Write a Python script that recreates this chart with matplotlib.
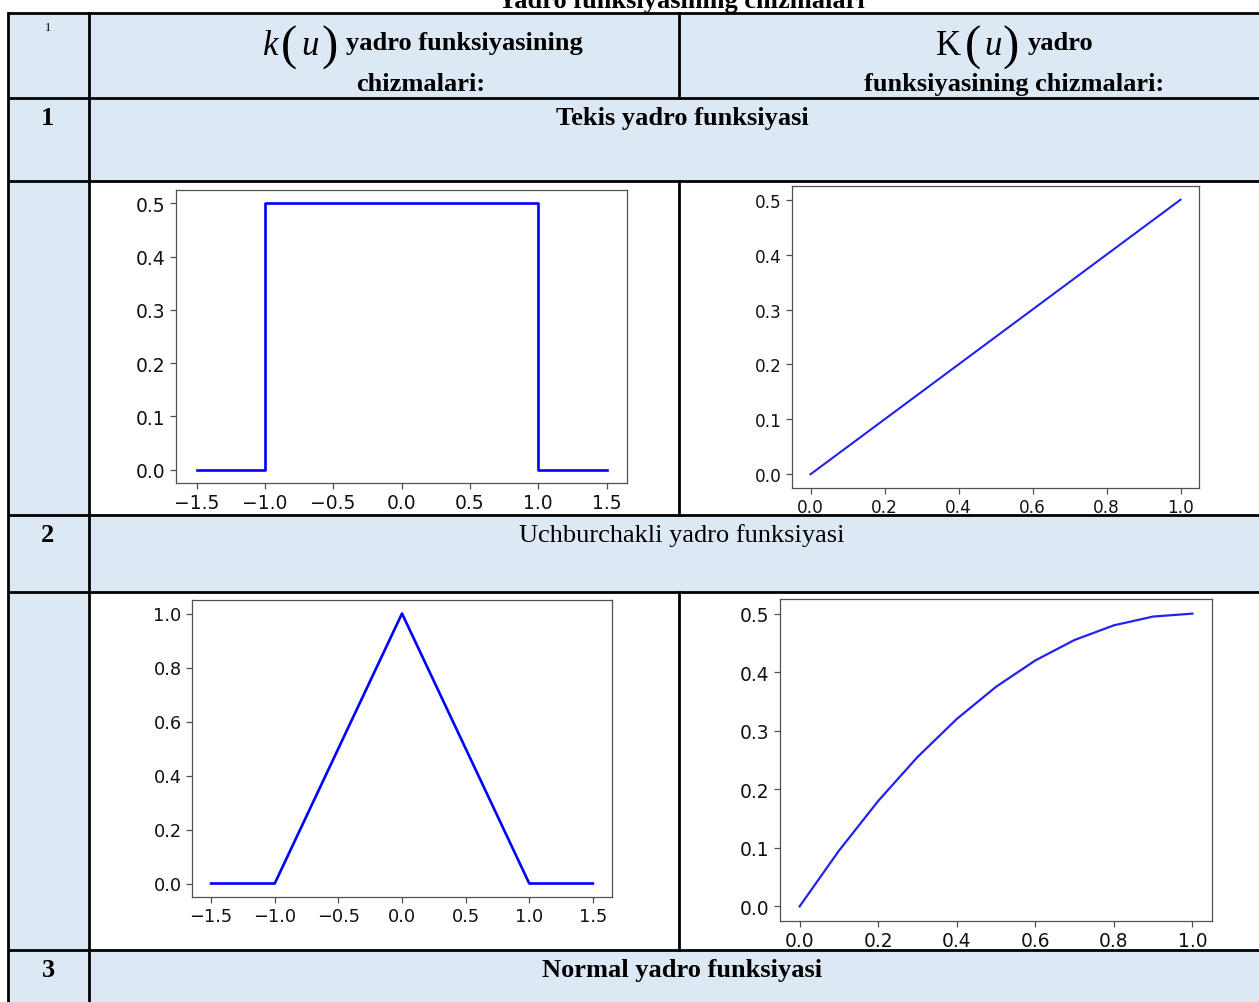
import matplotlib
matplotlib.use('Agg')
import matplotlib.pyplot as plt
from matplotlib.patches import Rectangle

W, H = 1259, 1003
BLUE_CELL = '#dde8f5'
SERIF = 'Liberation Serif'

# Uniform (tekis) kernel and its integral
u_flat = [-1.5, -1.0, -1.0, 1.0, 1.0, 1.5]
k_flat = [0.0, 0.0, 0.5, 0.5, 0.0, 0.0]
u_flat_int = [0.0, 0.1, 0.2, 0.3, 0.4, 0.5, 0.6, 0.7, 0.8, 0.9, 1.0]
K_flat = [0.0, 0.05, 0.10, 0.15, 0.20, 0.25, 0.30, 0.35, 0.40, 0.45, 0.50]

# Triangular (uchburchakli) kernel and its integral
u_tri = [-1.5, -1.0, 0.0, 1.0, 1.5]
k_tri = [0.0, 0.0, 1.0, 0.0, 0.0]
u_tri_int = [0.0, 0.1, 0.2, 0.3, 0.4, 0.5, 0.6, 0.7, 0.8, 0.9, 1.0]
K_tri = [0.0, 0.095, 0.18, 0.255, 0.32, 0.375, 0.42, 0.455, 0.48, 0.495, 0.5]

title = 'Yadro funksiyasining chizmalari'
row_numbers = ['1', '2', '3']
row_titles = ['Tekis yadro funksiyasi', 'Uchburchakli yadro funksiyasi',
              'Normal yadro funksiyasi']
row_weights = ['bold', 'normal', 'bold']

fig = plt.figure(figsize=(W / 100, H / 100), dpi=100)
fig.patch.set_facecolor('white')

# full-figure axes in pixel units for the table itself
tab = fig.add_axes([0, 0, 1, 1])
tab.set_xlim(0, W)
tab.set_ylim(H, 0)
tab.axis('off')

x_left, x_c1, x_c2, x_right = 8, 89, 679, 1262
y_rows = [14, 99, 182, 516, 593, 951, 1010]

# shaded cells: header, row titles, and the number column
for top, bot in [(y_rows[0], y_rows[1]), (y_rows[1], y_rows[2]),
                 (y_rows[3], y_rows[4]), (y_rows[5], y_rows[6])]:
    tab.add_patch(Rectangle((x_left, top), x_right - x_left, bot - top,
                            facecolor=BLUE_CELL, edgecolor='none'))
for top, bot in [(y_rows[2], y_rows[3]), (y_rows[4], y_rows[5])]:
    tab.add_patch(Rectangle((x_left, top), x_c1 - x_left, bot - top,
                            facecolor=BLUE_CELL, edgecolor='none'))

lw = 2.0
for y in y_rows[:-1]:
    tab.plot([x_left, x_right], [y, y], color='black', lw=lw,
             solid_capstyle='butt')
tab.plot([x_left, x_left], [y_rows[0], H], color='black', lw=lw)
tab.plot([x_c1, x_c1], [y_rows[0], H], color='black', lw=lw)
for top, bot in [(y_rows[0], y_rows[1]), (y_rows[2], y_rows[3]),
                 (y_rows[4], y_rows[5])]:
    tab.plot([x_c2, x_c2], [top, bot], color='black', lw=lw)

fs = 19
tab.text(681, 8, title, family=SERIF, weight='bold', fontsize=fs,
         ha='center', va='baseline')


def func_label(xs, letter, letter_style):
    # letter, big brackets and italic u, each placed on its own
    y_base = 55
    tab.text(xs[0], y_base, letter, family=SERIF, style=letter_style,
             fontsize=25, ha='center', va='baseline')
    tab.text(xs[1], y_base + 5, '(', family=SERIF, fontsize=35,
             ha='center', va='baseline')
    tab.text(xs[2], y_base, 'u', family=SERIF, style='italic',
             fontsize=25, ha='center', va='baseline')
    tab.text(xs[3], y_base + 5, ')', family=SERIF, fontsize=35,
             ha='center', va='baseline')


# header row
tab.text(48, 31, '1', family=SERIF, fontsize=9, ha='center', va='baseline')
func_label([271, 289, 310, 330], 'k', 'italic')
tab.text(346, 50, 'yadro funksiyasining', family=SERIF, weight='bold',
         fontsize=fs, ha='left', va='baseline')
tab.text(421, 91, 'chizmalari:', family=SERIF, weight='bold', fontsize=fs,
         ha='center', va='baseline')
func_label([949, 973, 993, 1011], 'K', 'normal')
tab.text(1028, 50, 'yadro', family=SERIF, weight='bold', fontsize=fs,
         ha='left', va='baseline')
tab.text(1014, 91, 'funksiyasining chizmalari:', family=SERIF,
         weight='bold', fontsize=fs, ha='center', va='baseline')

# section rows
for num, name, wt, y in zip(row_numbers, row_titles, row_weights,
                            [y_rows[1], y_rows[3], y_rows[5]]):
    tab.text(48, y + 26, num, family=SERIF, weight='bold', fontsize=fs,
             ha='center', va='baseline')
    tab.text(682, y + 26, name, family=SERIF, weight=wt, fontsize=fs,
             ha='center', va='baseline')


def px_axes(left, top, right, bottom):
    return fig.add_axes([left / W, 1 - bottom / H, (right - left) / W,
                         (bottom - top) / H])


def style(ax, size):
    for sp in ax.spines.values():
        sp.set_color('#505050')
        sp.set_linewidth(0.9)
    ax.tick_params(colors='#505050', labelcolor='#111111', labelsize=size,
                   width=0.9, length=4)


ax1 = px_axes(176, 191, 627, 484)
ax1.plot(u_flat, k_flat, color='blue', lw=1.9)
style(ax1, 13.5)

ax2 = px_axes(792, 187, 1199, 489)
ax2.plot(u_flat_int, K_flat, color='#2222ee', lw=1.5)
ax2.set_xticks([0.0, 0.2, 0.4, 0.6, 0.8, 1.0])
style(ax2, 12.2)

ax3 = px_axes(192, 601, 612, 898)
ax3.plot(u_tri, k_tri, color='blue', lw=1.9)
style(ax3, 12.8)

ax4 = px_axes(780, 600, 1212, 922)
ax4.plot(u_tri_int, K_tri, color='#2222ee', lw=1.6)
style(ax4, 13.4)

fig.savefig('out.png', dpi=100, facecolor='white')
